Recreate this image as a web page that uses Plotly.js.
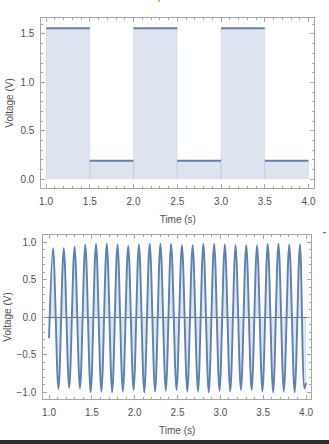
<!DOCTYPE html>
<html>
<head>
<meta charset="utf-8">
<script src="https://cdn.plot.ly/plotly-3.0.1.min.js"></script>
<style>html,body{margin:0;padding:0;background:#fff;}#chart{width:329px;height:444px;}</style>
</head>
<body>
<div id="chart"></div>
<script>
// ---- Top chart: step voltage ----
const stepStart = [1.0, 1.5, 2.0, 2.5, 3.0, 3.5];
const stepEnd   = [1.5, 2.0, 2.5, 3.0, 3.5, 4.0];
const stepLevel = [1.56, 0.19, 1.56, 0.19, 1.56, 0.19];

// ---- Bottom chart: oscillating voltage (extrema) ----
const waveTime = [1.000,
  1.047, 1.110, 1.172, 1.235, 1.298, 1.361, 1.423, 1.486, 1.548, 1.611,
  1.674, 1.737, 1.799, 1.862, 1.924, 1.987, 2.049, 2.112, 2.175, 2.238,
  2.300, 2.363, 2.425, 2.488, 2.551, 2.614, 2.676, 2.739, 2.801, 2.864,
  2.927, 2.990, 3.052, 3.115, 3.177, 3.240, 3.302, 3.365, 3.428, 3.491,
  3.553, 3.616, 3.678, 3.741, 3.804, 3.867, 3.929, 3.982, 4.000];
const waveVolt = [-0.28,
  0.92, -0.96, 0.92, -0.94, 0.94, -0.95, 0.97, -1.00, 0.98, -0.99,
  0.98, -1.00, 0.97, -0.99, 0.95, -0.97, 0.97, -1.00, 0.98, -0.99,
  0.98, -0.98, 0.98, -0.97, 0.96, -0.99, 0.96, -0.99, 0.98, -1.00,
  0.98, -0.98, 0.97, -0.99, 0.96, -0.97, 0.96, -0.97, 0.96, -0.99,
  0.98, -1.00, 0.98, -0.99, 0.97, -1.00, 0.97, -0.95, -0.87];

const xTickLabels = ['1.0','1.5','2.0','2.5','3.0','3.5','4.0'];

const blue = 'rgb(94,129,181)';
const fillBlue = 'rgb(221,228,238)';
const frame = '#a6a6a6';
const labelFont = {family: 'Liberation Sans, Arial, sans-serif', size: 10, color: '#505050'};

// build step polygons / lines from the arrays
const fx = [], fy = [], hx = [], hy = [], vx = [], vy = [];
for (let i = 0; i < stepStart.length; i++) {
  const s = stepStart[i], e = stepEnd[i], v = stepLevel[i];
  fx.push(s, e, e, s, s, null); fy.push(0, 0, v, v, 0, null);
  hx.push(s, e, null); hy.push(v, v, null);
  vx.push(s, s, null, e, e, null); vy.push(0, v, null, 0, v, null);
}

const traces = [
  {x: fx, y: fy, type: 'scatter', mode: 'lines', fill: 'toself', fillcolor: fillBlue,
   line: {width: 0}, hoverinfo: 'skip', xaxis: 'x', yaxis: 'y'},
  {x: vx, y: vy, type: 'scatter', mode: 'lines', line: {width: 1, color: 'rgba(94,129,181,0.12)'},
   hoverinfo: 'skip', xaxis: 'x', yaxis: 'y'},
  {x: hx, y: hy, type: 'scatter', mode: 'lines', line: {width: 2, color: blue},
   xaxis: 'x', yaxis: 'y'},
  {x: waveTime, y: waveVolt, type: 'scatter', mode: 'lines', fill: 'tozeroy',
   fillcolor: 'rgba(94,129,181,0.2)', line: {width: 1.9, color: blue, shape: 'spline'},
   xaxis: 'x2', yaxis: 'y2'}
];

function xAxis(domain, range, standoff) {
  return {
    domain: domain, range: range,
    tickmode: 'array', tickvals: xTickLabels.map(Number), ticktext: xTickLabels,
    ticks: 'inside', ticklen: 4, tickcolor: frame, tickwidth: 1,
    minor: {dtick: 0.1, tick0: 1, ticks: 'inside', ticklen: 2, tickcolor: frame},
    showline: true, linecolor: frame, linewidth: 1, mirror: 'allticks',
    showgrid: false, zeroline: false, tickfont: labelFont, ticklabelstandoff: 4,
    title: {text: 'Time (s)', font: labelFont, standoff: standoff}
  };
}
function yAxis(domain, range, zero, standoff) {
  return {
    domain: domain, range: range,
    tick0: 0, dtick: 0.5, tickformat: '.1f',
    ticks: 'inside', ticklen: 4, tickcolor: frame, tickwidth: 1,
    minor: {dtick: 0.1, tick0: 0, ticks: 'inside', ticklen: 2, tickcolor: frame},
    showline: true, linecolor: frame, linewidth: 1, mirror: 'allticks',
    showgrid: false, zeroline: zero, zerolinecolor: '#707070', zerolinewidth: 1,
    tickfont: labelFont, ticklabelstandoff: 4,
    title: {text: 'Voltage (V)', font: labelFont, standoff: standoff}
  };
}

const xa = xAxis([0.1255, 0.9553], [0.946, 4.066], 10); xa.anchor = 'y';
const ya = yAxis([0.5773, 0.9588], [-0.088, 1.662], false, 4); ya.anchor = 'x';
const xb = xAxis([0.1316, 0.9453], [0.933, 4.058], 10); xb.anchor = 'y2';
const yb = yAxis([0.1014, 0.4707], [-1.089, 1.097], true, 3); yb.anchor = 'x2';

const layout = {
  width: 329, height: 444,
  margin: {l: 0, r: 0, t: 0, b: 0},
  paper_bgcolor: '#fff', plot_bgcolor: '#fff',
  showlegend: false,
  xaxis: xa, yaxis: ya, xaxis2: xb, yaxis2: yb,
  shapes: [
    {type: 'rect', xref: 'paper', yref: 'paper', x0: 0, x1: 1, y0: 0, y1: 4/444,
     fillcolor: '#2e2e2e', line: {width: 0}, layer: 'above'},
    {type: 'rect', xref: 'paper', yref: 'paper', x0: 158/329, x1: 160/329, y0: 1 - 2/444, y1: 1,
     fillcolor: '#f2b340', line: {width: 0}},
    {type: 'line', xref: 'paper', yref: 'paper', x0: 323/329, x1: 326/329, y0: 1 - 232.7/444, y1: 1 - 232.7/444,
     line: {width: 1, color: '#555'}}
  ]
};

Plotly.newPlot('chart', traces, layout, {staticPlot: true, displayModeBar: false});
</script>
</body>
</html>
